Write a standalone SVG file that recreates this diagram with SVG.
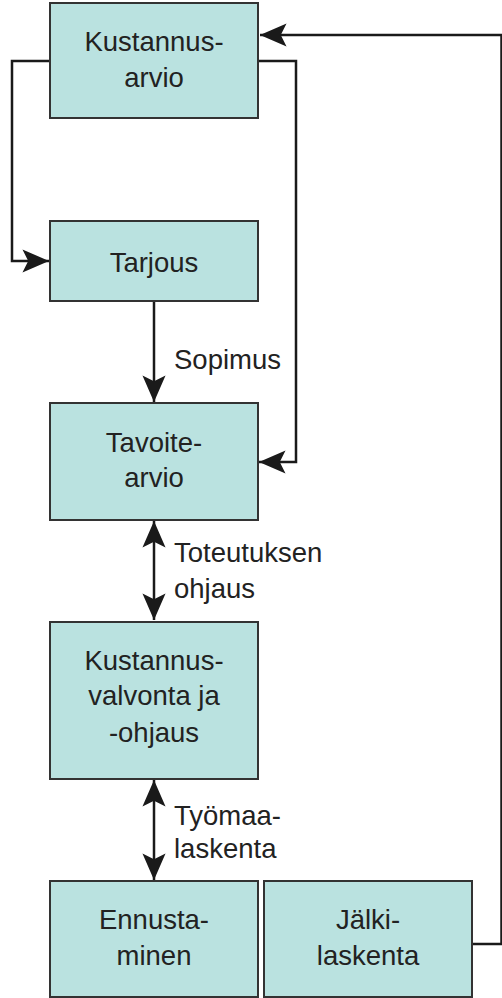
<svg xmlns="http://www.w3.org/2000/svg" width="502" height="998" viewBox="0 0 502 998">
<style>
.box{fill:#bae2e0;stroke:#333;stroke-width:2}
.t{font-family:"Liberation Sans",Arial,sans-serif;font-size:27.5px;fill:#222}
.c{text-anchor:middle}
.ln{fill:none;stroke:#1a1a1a;stroke-width:2.5}
</style>
<defs>
<marker id="ah" markerUnits="userSpaceOnUse" markerWidth="30" markerHeight="30" viewBox="-25 -12 26 24" refX="0" refY="0" orient="auto-start-reverse">
<path d="M0,0 L-23,-10 L-18,0 L-23,10 Z" fill="#1a1a1a"/>
</marker>
</defs>
<rect x="0" y="0" width="502" height="998" fill="#fff"/>
<g id="connectors">
<path class="ln" d="M502,35 L260,35" marker-end="url(#ah)"/>
<path class="ln" d="M501.5,35 L501.5,944 L472,944"/>
<path class="ln" d="M50,61 L12,61 L12,261 L49,261" marker-end="url(#ah)"/>
<path class="ln" d="M258,61 L296,61 L296,462 L259,462" marker-end="url(#ah)"/>
<path class="ln" d="M154,302 L154,402" marker-end="url(#ah)"/>
<path class="ln" d="M154,521 L154,620" marker-start="url(#ah)" marker-end="url(#ah)"/>
<path class="ln" d="M154,780 L154,880" marker-start="url(#ah)" marker-end="url(#ah)"/>
</g>
<g id="labels">
<text class="t" x="174" y="369">Sopimus</text>
<text class="t" x="174" y="562">Toteutuksen</text>
<text class="t" x="174" y="598">ohjaus</text>
<text class="t" x="174" y="825">Työmaa-</text>
<text class="t" x="174" y="858">laskenta</text>
</g>
<g id="kustannusarvio">
<rect class="box" x="50" y="3" width="208" height="115"/>
<text class="t c" x="154" y="51">Kustannus-</text>
<text class="t c" x="154" y="87">arvio</text>
</g>
<g id="tarjous">
<rect class="box" x="50" y="221" width="208" height="80"/>
<text class="t c" x="154" y="272">Tarjous</text>
</g>
<g id="tavoitearvio">
<rect class="box" x="50" y="403" width="208" height="117"/>
<text class="t c" x="154" y="452">Tavoite-</text>
<text class="t c" x="154" y="487">arvio</text>
</g>
<g id="kustannusvalvonta">
<rect class="box" x="50" y="622" width="208" height="157"/>
<text class="t c" x="154" y="670">Kustannus-</text>
<text class="t c" x="154" y="705">valvonta ja</text>
<text class="t c" x="154" y="742">-ohjaus</text>
</g>
<g id="ennustaminen">
<rect class="box" x="50" y="881" width="208" height="116"/>
<text class="t c" x="154" y="929">Ennusta-</text>
<text class="t c" x="154" y="965">minen</text>
</g>
<g id="jalkilaskenta">
<rect class="box" x="264" y="881" width="208" height="116"/>
<text class="t c" x="368" y="929">Jälki-</text>
<text class="t c" x="368" y="965">laskenta</text>
</g>
</svg>
